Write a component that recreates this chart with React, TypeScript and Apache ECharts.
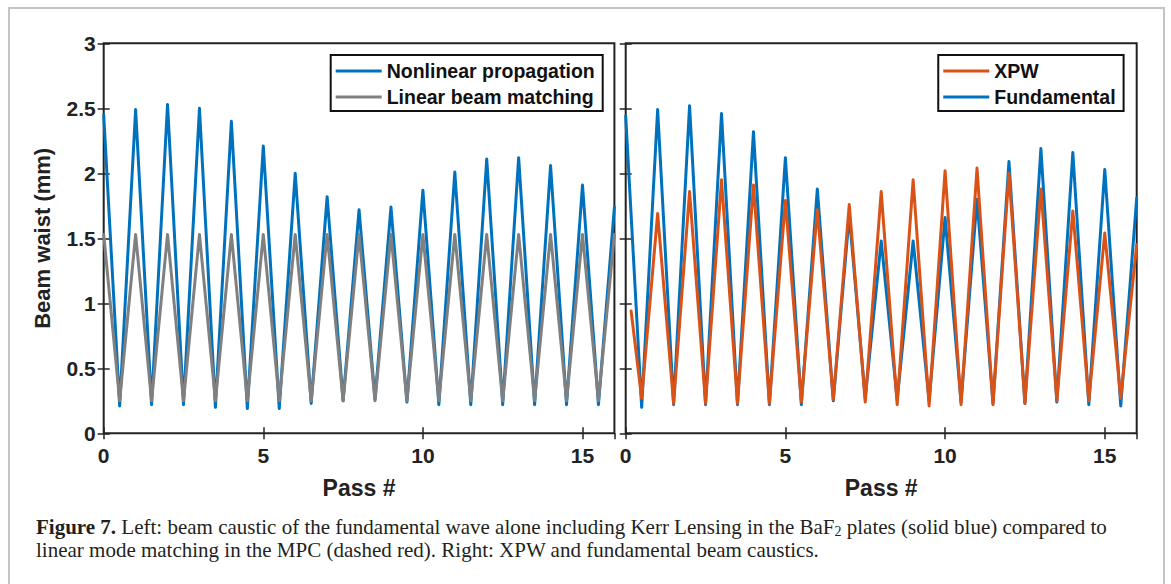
import React, { useEffect, useRef } from "react";
import * as echarts from "echarts";

// ---- data ----
const X_TICK_LABELS = ["0", "5", "10", "15"];
const Y_TICK_LABELS = ["0", "0.5", "1", "1.5", "2", "2.5", "3"];

// Left panel: peaks at integer passes (0..16), troughs at half passes (0.5..15.5)
const nonlinearPeaks = [2.45, 2.49, 2.53, 2.5, 2.4, 2.21, 2.0, 1.82, 1.72, 1.74, 1.87, 2.01, 2.11, 2.12, 2.06, 1.91, 1.74];
const nonlinearTroughs = [0.21, 0.22, 0.22, 0.2, 0.19, 0.19, 0.23, 0.25, 0.26, 0.24, 0.22, 0.22, 0.22, 0.22, 0.22, 0.22];
const linearPeaks = [1.53, 1.53, 1.53, 1.53, 1.53, 1.53, 1.53, 1.53, 1.53, 1.53, 1.53, 1.53, 1.53, 1.53, 1.53, 1.53, 1.53];
const linearTroughs = [0.25, 0.25, 0.25, 0.25, 0.25, 0.25, 0.25, 0.25, 0.25, 0.25, 0.25, 0.25, 0.25, 0.25, 0.25, 0.25];

// Right panel
const fundamentalPeaks = [2.44, 2.49, 2.52, 2.46, 2.32, 2.12, 1.88, 1.68, 1.48, 1.48, 1.66, 1.8, 2.09, 2.19, 2.16, 2.03, 1.81];
const fundamentalTroughs = [0.2, 0.22, 0.22, 0.22, 0.22, 0.22, 0.25, 0.27, 0.26, 0.25, 0.24, 0.23, 0.23, 0.24, 0.22, 0.21];
const xpwStart = [0.17, 0.94];
const xpwPeaks = [null, 1.69, 1.86, 1.95, 1.91, 1.79, 1.72, 1.76, 1.86, 1.95, 2.02, 2.04, 2.0, 1.88, 1.71, 1.54, 1.45];
const xpwTroughs = [0.27, 0.23, 0.23, 0.23, 0.23, 0.24, 0.26, 0.24, 0.22, 0.21, 0.22, 0.22, 0.23, 0.25, 0.25, 0.27];

function zigzag(peaks: (number | null)[], troughs: number[], start?: number[]) {
  const out: number[][] = [];
  if (start) out.push(start);
  for (let i = 0; i < peaks.length; i++) {
    const p = peaks[i];
    if (p !== null) out.push([i, p]);
    if (i < troughs.length) out.push([i + 0.5, troughs[i]]);
  }
  return out;
}

const BLUE = "#0072BD";
const ORANGE = "#D95319";
const GRAY = "#808080";
const INK = "#222222";
const SANS = '"Liberation Sans", Arial, sans-serif';
const SERIF = '"Liberation Serif", "Times New Roman", serif';

function xAxisDef(gridIndex: number, position: "bottom" | "top", withLabels: boolean) {
  return {
    type: "value",
    gridIndex,
    position,
    min: 0,
    max: 16,
    interval: 5,
    axisLine: { show: false },
    axisTick: { show: true, inside: true, length: 6, lineStyle: { color: INK, width: 1.5 } },
    splitLine: { show: false },
    axisLabel: {
      show: withLabels,
      showMaxLabel: false,
      margin: 12,
      color: INK,
      fontFamily: SANS,
      fontWeight: "bold",
      fontSize: 21,
      formatter: (v: number) => X_TICK_LABELS[Math.round(v / 5)] ?? "",
    },
    name: withLabels ? "Pass #" : "",
    nameLocation: "middle",
    nameGap: 43,
    nameTextStyle: { color: INK, fontFamily: SANS, fontWeight: "bold", fontSize: 23 },
  };
}

function yAxisDef(gridIndex: number, position: "left" | "right", withLabels: boolean) {
  return {
    type: "value",
    gridIndex,
    position,
    min: 0,
    max: 3,
    interval: 0.5,
    axisLine: { show: false },
    axisTick: { show: true, inside: true, length: 6, lineStyle: { color: INK, width: 1.5 } },
    splitLine: { show: false },
    axisLabel: {
      show: withLabels,
      margin: 8,
      color: INK,
      fontFamily: SANS,
      fontWeight: "bold",
      fontSize: 21,
      formatter: (v: number) => Y_TICK_LABELS[Math.round(v * 2)] ?? "",
    },
    name: withLabels ? "Beam waist (mm)" : "",
    nameLocation: "middle",
    nameGap: 50,
    nameTextStyle: { color: INK, fontFamily: SANS, fontWeight: "bold", fontSize: 22 },
  };
}

function lineSeries(name: string, color: string, data: number[][], xi: number, yi: number) {
  return {
    name,
    type: "line",
    xAxisIndex: xi,
    yAxisIndex: yi,
    data,
    symbol: "none",
    showSymbol: false,
    lineStyle: { color, width: 3, join: "round", cap: "round" },
    itemStyle: { color },
  };
}

const legendBase = {
  orient: "vertical",
  top: 55,
  icon: "rect",
  itemWidth: 46,
  itemHeight: 3,
  itemGap: 4,
  padding: [5, 8, 3, 5],
  borderColor: "#111",
  borderWidth: 2,
  backgroundColor: "#fff",
  textStyle: { color: "#111", fontFamily: SANS, fontWeight: "bold", fontSize: 19.5, lineHeight: 22 },
};

export default function App() {
  const ref = useRef<HTMLDivElement>(null);
  useEffect(() => {
    const chart = echarts.init(ref.current!, null, { renderer: "svg" });
    const option = {
      animation: false,
      backgroundColor: "#fff",
      grid: [
        { left: 103.7, top: 43.3, width: 510.7, height: 390, show: true, borderColor: INK, borderWidth: 2, backgroundColor: "transparent" },
        { left: 625.7, top: 43.3, width: 511, height: 390, show: true, borderColor: INK, borderWidth: 2, backgroundColor: "transparent" },
      ],
      xAxis: [
        xAxisDef(0, "bottom", true),
        xAxisDef(0, "top", false),
        xAxisDef(1, "bottom", true),
        xAxisDef(1, "top", false),
      ],
      yAxis: [
        yAxisDef(0, "left", true),
        yAxisDef(0, "right", false),
        yAxisDef(1, "left", false),
        yAxisDef(1, "right", false),
      ],
      legend: [
        { ...legendBase, right: 1171 - 602.7, data: ["Nonlinear propagation", "Linear beam matching"] },
        { ...legendBase, right: 1171 - 1123.6, data: ["XPW", "Fundamental"] },
      ],
      series: [
        lineSeries("Nonlinear propagation", BLUE, zigzag(nonlinearPeaks, nonlinearTroughs), 0, 0),
        lineSeries("Linear beam matching", GRAY, zigzag(linearPeaks, linearTroughs), 0, 0),
        lineSeries("Fundamental", BLUE, zigzag(fundamentalPeaks, fundamentalTroughs), 2, 2),
        lineSeries("XPW", ORANGE, zigzag(xpwPeaks, xpwTroughs, xpwStart), 2, 2),
      ],
      graphic: [
        {
          type: "rect",
          shape: { x: 9, y: 8, width: 1155, height: 620 },
          style: { fill: "none", stroke: "#c4c4c4", lineWidth: 2 },
          silent: true,
        },
        {
          type: "text",
          left: 36,
          top: 516,
          style: {
            text: "{b|Figure 7.} Left: beam caustic of the fundamental wave alone including Kerr Lensing in the BaF{s|2} plates (solid blue) compared to",
            font: `21px ${SERIF}`,
            fill: "#231f20",
            rich: {
              b: { fontWeight: "bold", fontFamily: SERIF, fontSize: 21, fill: "#231f20" },
              s: { fontFamily: SERIF, fontSize: 14, fill: "#231f20", padding: [9, 0, 0, 0] },
            },
          },
        },
        {
          type: "text",
          left: 36,
          top: 539,
          style: {
            text: "linear mode matching in the MPC (dashed red). Right: XPW and fundamental beam caustics.",
            font: `21px ${SERIF}`,
            fill: "#231f20",
          },
        },
      ],
    };
    chart.setOption(option as any);
    return () => chart.dispose();
  }, []);
  return (
    <div
      ref={ref}
      style={{ position: "fixed", left: 0, top: 0, width: 1171, height: 584, background: "#fff" }}
    />
  );
}
